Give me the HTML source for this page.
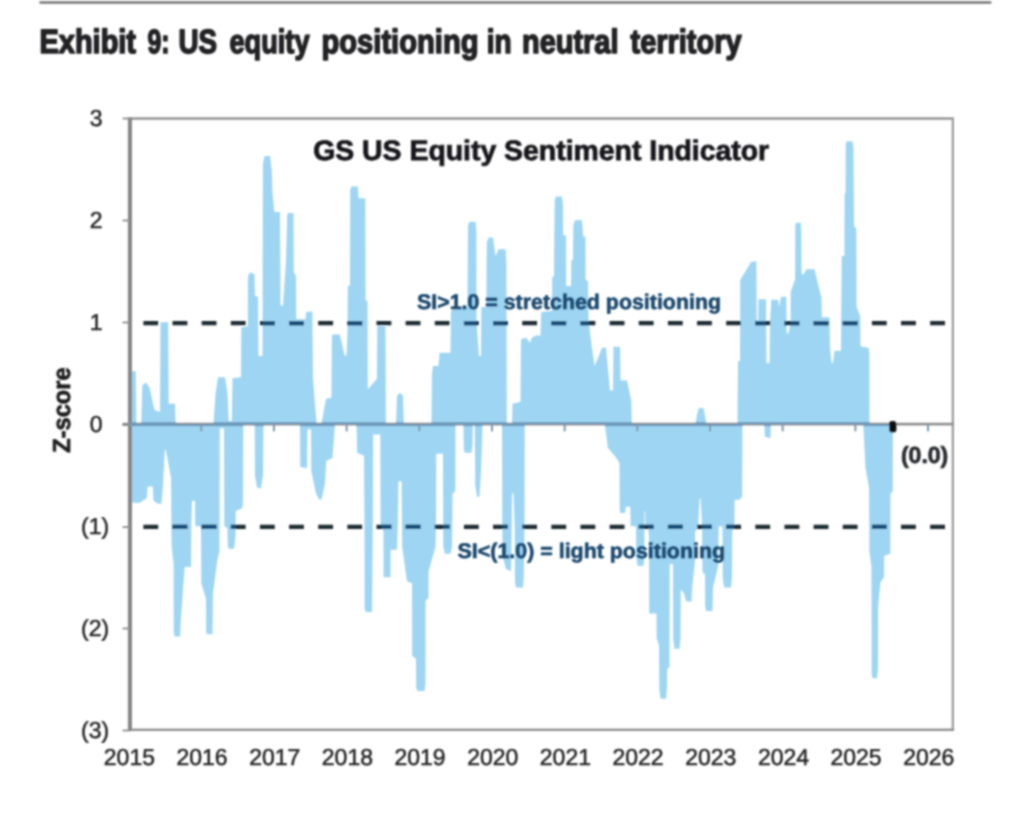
<!DOCTYPE html>
<html lang="en">
<head>
<meta charset="utf-8">
<title>Exhibit 9: US equity positioning in neutral territory</title>
<style>
html,body{margin:0;padding:0;background:#fff;}
body{width:1024px;height:830px;overflow:hidden;position:relative;font-family:"Liberation Sans",Arial,sans-serif;}
svg{position:absolute;left:0;top:0;display:block;text-rendering:geometricPrecision;}
.ttl{font-weight:bold;font-size:33.6px;fill:#232325;stroke:#232325;stroke-width:1.6px;stroke-linejoin:round;}
.ax text{font-size:23px;fill:#262626;stroke:#262626;stroke-width:0.5px;}
.ct{font-weight:bold;font-size:28px;fill:#19191b;stroke:#19191b;stroke-width:0.8px;}
.an{font-weight:bold;font-size:21.1px;fill:#1b486e;stroke:#1b486e;stroke-width:0.6px;mix-blend-mode:multiply;}
.val{font-weight:bold;font-size:23.3px;fill:#262c2e;stroke:#262c2e;stroke-width:0.7px;}
</style>
</head>
<body>
<svg width="1024" height="830" viewBox="0 0 1024 830">
<defs>
<filter id="soft" x="0" y="0" width="1024" height="830" filterUnits="userSpaceOnUse"><feGaussianBlur stdDeviation="1"/></filter>
<filter id="tsoft" x="0" y="0" width="1024" height="830" filterUnits="userSpaceOnUse"><feConvolveMatrix order="3" kernelMatrix="1 2 1 2 4 2 1 2 1" divisor="16" edgeMode="duplicate" preserveAlpha="false"/><feConvolveMatrix order="3" kernelMatrix="1 4 1 4 16 4 1 4 1" divisor="36" edgeMode="duplicate" preserveAlpha="false"/></filter>
<clipPath id="ca"><path d="M130 424.25L130 371.21L135.8 371.21L136.3 424.25L141.3 424.25L142.3 385.49L146 382.43L149.5 387.53L154.5 409.97L160 412.01L160.5 322.25L168.2 322.25L168.6 403.85L175 403.85L175.6 424.25L213.5 424.25L215.5 393.65L218 377.33L225 377.33L227.5 393.65L228.8 421.19L231.8 421.19L232.5 378.35L241 377.33L241.3 327.35L247.8 326.33L248 276.35L250 272.27L254.5 274.31L255 295.73L258 296.75L258.5 355.91L262.5 355.91L262.9 164.15L264.5 155.99L270 155.99L271.7 169.25L272.5 192.71L274.3 212.09L280 212.09L280.5 304.91L283 305.93L286 261.05L287.2 215.15L288 213.11L293.5 213.11L293.8 273.29L296 275.33L296.3 319.19L305.6 319.19L306 312.05L312.4 311.54L313 378.35L316.6 424.25L321.5 424.25L322.3 419.15L326 398.75L331.4 397.73L331.9 336.53L332.6 334.49L339.8 334.49L344.8 355.91L346.5 354.89L347.5 332.45L347.8 286.04L350 285.53L350.2 189.65L351.5 186.59L357.9 186.59L358.5 198.32L365.3 198.32L365.6 299.81L367.5 301.85L367.8 389.57L369 388.04L376.9 378.86L377.3 327.35L378 325.82L385.5 326.33L385.9 424.25L396 424.25L397 395.69L400 392.63L403 395.69L403.8 424.25L431.5 424.25L432 373.25L433 366.11L438.5 366.11L439.5 352.85L450.5 352.85L451 312.05L452.5 308.99L467.5 306.95L468 225.35L469.5 221.78L475.5 221.78L476.3 230.45L476.6 322.25L479 355.91L481 355.91L481.3 306.95L486.3 306.95L486.8 242.69L488.5 237.59L493 237.59L494.8 250.85L495.5 255.95L497 252.89L498.5 249.22L505.5 249.22L506.4 261.05L506.8 424.25L512 424.25L512.5 403.85L520.5 401.81L521 339.59L526 337.55L530 342.65L532 337.55L536 335.51L540.5 335.51L541.2 312.05L552 311.03L552.2 277.37L554 276.35L554.3 235.55L554.8 199.85L556 196.38L562 196.38L562.9 204.95L563.2 235.04L566 235.55L566.2 286.04L571 286.04L571.3 261.05L573 259.01L573.3 225.35L575 220.25L582 220.25L582.8 230.45L583.2 236.57L585.4 236.57L585.6 279.41L588 281.45L588.5 318.17L590 332.45L594.5 366.11L598 357.95L602 347.75L606 347.75L610 390.59L613 390.59L613.5 346.73L620 346.73L620.5 380.39L627 380.39L631.3 400.79L631.8 424.25L695.5 424.25L697 414.05L699 407.93L703.5 407.93L705.5 419.15L706.4 424.25L737.5 424.25L738 361.01L740 361.01L740.2 280.02L751.1 262.07L756.4 261.05L756.7 320.21L758.2 320.21L758.5 299.3L766 299.3L766.5 363.05L769.5 363.05L770 322.25L771.4 299.81L778 299.81L779 306.95L781 296.75L786.3 296.75L786.7 333.47L788.5 333.47L790.6 322.25L790.7 291.65L795.1 279.41L795.3 225.35L796 222.8L800.8 222.8L801.3 230.45L801.5 272.27L803 275.33L806.5 269.21L814.5 269.21L820.6 294.71L821.5 296.75L821.8 317.15L829.5 317.15L830 347.75L831.5 363.05L833 363.05L834.5 350.81L841 350.81L841.7 255.95L844.4 255.95L844.6 194.75L845.5 192.71L845.8 144.77L846.5 141.2L852.5 141.2L853.5 148.85L854 226.37L856.3 228.41L856.6 306.95L860.2 316.13L860.5 345.71L862 346.73L868.5 347.75L869.3 352.85L869.5 424.25L869.5 424.25Z"/><path d="M130 424.25L130 499.73L133 502.79L140 502.79L147 497.69L147.6 486.47L152.8 486.47L153.5 500.75L158 503.81L161.5 503.81L163 485.45L164.8 449.75L165.8 449.75L171 477.8L171.5 526.25L171.6 545.63L173.6 563.48L173.8 632.33L174.5 636.41L180 636.41L181 618.05L184.3 572.15L184.6 567.05L191 567.05L191.3 526.25L192 500.75L195 500.75L195.3 526.25L201 526.25L201.3 583.37L206 598.67L206.2 632.33L207 634.37L212.5 634.37L213 593.57L217.5 558.89L219.4 551.75L219.8 428.33L224 428.33L224.3 526.25L227.5 528.29L227.8 546.65L229 548.69L234 548.69L235.5 536.45L235.8 510.95L242.5 507.89L243 499.73L243.3 424.25L254.7 424.25L255 475.25L257 487.49L261 488.51L263 475.25L263.5 424.25L300 424.25L300.3 467.09L307 468.11L307.5 429.35L311 429.35L311.3 471.17L316 493.61L320 500.75L322 497.69L325 483.41L326.2 460.97L332.5 457.91L335 424.25L356.5 424.25L357.2 452.81L364 455.87L364.5 526.25L364.6 607.85L365.5 611.93L372 611.93L372.8 526.25L373.2 434.45L380.3 434.45L380.6 526.25L383.5 531.35L383.6 577.25L390.5 577.25L390.6 549.71L397 549.71L397.75 526.25L398.4 481.37L401.6 481.37L402 526.25L402.2 546.65L407 581.33L412 583.37L412.2 655.79L416 658.85L416.2 687.41L417.5 690.98L424.5 690.98L425.5 684.35L425.6 600.71L428.5 597.65L428.6 571.13L435.5 546.65L436 526.25L436.3 453.83L443 453.83L443.2 526.25L443.3 546.65L445 553.79L450.5 553.79L452 546.65L452.6 493.61L455.3 491.57L455.5 424.25L463.5 424.25L463.8 449.75L465 452.81L471.5 452.81L472.5 444.65L472.8 424.25L474.8 424.25L475.3 485.45L477 496.67L479.5 496.67L481 470.15L482 444.65L482.5 424.25L502 424.25L502.3 526.25L502.8 556.85L506 569.09L511 571.13L511.5 546.65L512 493.61L513.5 493.61L514.75 526.25L515 582.35L516 587.45L523 587.45L523.8 577.25L524.5 526.25L524.75 424.25L604.7 424.25L605.5 429.35L607.8 447.71L615.6 456.89L619.5 463.01L619.7 509.93L620.5 512.99L625 512.99L625.8 506.87L630.3 506.87L630.6 526.25L636 526.25L636.3 556.85L637.5 566.03L643.5 566.03L644.3 556.85L644.5 510.95L645.2 510.95L645.5 526.25L648 526.25L649 536.45L649.2 613.46L656.5 613.46L656.7 638.45L659 645.59L659.3 689.45L660.5 698.63L666 698.63L667 689.45L667.2 669.05L669.5 667.01L669.7 563.99L673 563.99L673.2 638.45L674.5 648.65L679.5 648.65L680.5 638.45L680.75 589.49L684 593.57L686 601.22L691.5 601.73L692 590L695 560.93L695.2 531.35L698 528.29L699.7 498.71L700.7 498.71L702 526.25L702.5 572.15L705 574.19L705.2 605.81L706 610.91L712.5 610.91L713 587.45L718 567.05L718.75 526.25L722.5 526.25L722.7 577.25L724 587.45L731 587.45L732 577.25L732.2 531.35L734.5 528.29L734.7 499.73L740 499.73L740.2 497.69L742.2 497.69L742.4 424.25L764.5 424.25L764.8 436.49L770.5 438.53L770.8 424.25L863.3 424.25L865.5 468.11L869 487.49L869.3 526.25L869.4 551.75L871.5 567.05L871.7 674.15L872.5 678.23L877 678.23L878 669.05L878.2 605.81L880.5 582.35L884 577.25L884.25 555.83L890.3 553.79L890.5 493.61L892.8 491.57L893 424.25L893 424.25Z"/></clipPath>
</defs>
<rect x="0" y="0" width="1024" height="830" fill="#ffffff"/>
<g filter="url(#tsoft)">
<!-- top rule -->
<rect x="39.5" y="1.3" width="951.8" height="2.4" fill="#6f6f6f"/>
<!-- title -->
<!-- plot frame -->
<rect x="130.5" y="117.4" width="823.5" height="2.3" fill="#8c8c8c"/>
<rect x="951.7" y="118" width="2.3" height="612.6" fill="#9c9c9c"/>
<rect x="130.5" y="728.6" width="823.5" height="2.4" fill="#8f8f8f"/>
<!-- area series -->
<path d="M130 424.25L130 371.21L135.8 371.21L136.3 424.25L141.3 424.25L142.3 385.49L146 382.43L149.5 387.53L154.5 409.97L160 412.01L160.5 322.25L168.2 322.25L168.6 403.85L175 403.85L175.6 424.25L213.5 424.25L215.5 393.65L218 377.33L225 377.33L227.5 393.65L228.8 421.19L231.8 421.19L232.5 378.35L241 377.33L241.3 327.35L247.8 326.33L248 276.35L250 272.27L254.5 274.31L255 295.73L258 296.75L258.5 355.91L262.5 355.91L262.9 164.15L264.5 155.99L270 155.99L271.7 169.25L272.5 192.71L274.3 212.09L280 212.09L280.5 304.91L283 305.93L286 261.05L287.2 215.15L288 213.11L293.5 213.11L293.8 273.29L296 275.33L296.3 319.19L305.6 319.19L306 312.05L312.4 311.54L313 378.35L316.6 424.25L321.5 424.25L322.3 419.15L326 398.75L331.4 397.73L331.9 336.53L332.6 334.49L339.8 334.49L344.8 355.91L346.5 354.89L347.5 332.45L347.8 286.04L350 285.53L350.2 189.65L351.5 186.59L357.9 186.59L358.5 198.32L365.3 198.32L365.6 299.81L367.5 301.85L367.8 389.57L369 388.04L376.9 378.86L377.3 327.35L378 325.82L385.5 326.33L385.9 424.25L396 424.25L397 395.69L400 392.63L403 395.69L403.8 424.25L431.5 424.25L432 373.25L433 366.11L438.5 366.11L439.5 352.85L450.5 352.85L451 312.05L452.5 308.99L467.5 306.95L468 225.35L469.5 221.78L475.5 221.78L476.3 230.45L476.6 322.25L479 355.91L481 355.91L481.3 306.95L486.3 306.95L486.8 242.69L488.5 237.59L493 237.59L494.8 250.85L495.5 255.95L497 252.89L498.5 249.22L505.5 249.22L506.4 261.05L506.8 424.25L512 424.25L512.5 403.85L520.5 401.81L521 339.59L526 337.55L530 342.65L532 337.55L536 335.51L540.5 335.51L541.2 312.05L552 311.03L552.2 277.37L554 276.35L554.3 235.55L554.8 199.85L556 196.38L562 196.38L562.9 204.95L563.2 235.04L566 235.55L566.2 286.04L571 286.04L571.3 261.05L573 259.01L573.3 225.35L575 220.25L582 220.25L582.8 230.45L583.2 236.57L585.4 236.57L585.6 279.41L588 281.45L588.5 318.17L590 332.45L594.5 366.11L598 357.95L602 347.75L606 347.75L610 390.59L613 390.59L613.5 346.73L620 346.73L620.5 380.39L627 380.39L631.3 400.79L631.8 424.25L695.5 424.25L697 414.05L699 407.93L703.5 407.93L705.5 419.15L706.4 424.25L737.5 424.25L738 361.01L740 361.01L740.2 280.02L751.1 262.07L756.4 261.05L756.7 320.21L758.2 320.21L758.5 299.3L766 299.3L766.5 363.05L769.5 363.05L770 322.25L771.4 299.81L778 299.81L779 306.95L781 296.75L786.3 296.75L786.7 333.47L788.5 333.47L790.6 322.25L790.7 291.65L795.1 279.41L795.3 225.35L796 222.8L800.8 222.8L801.3 230.45L801.5 272.27L803 275.33L806.5 269.21L814.5 269.21L820.6 294.71L821.5 296.75L821.8 317.15L829.5 317.15L830 347.75L831.5 363.05L833 363.05L834.5 350.81L841 350.81L841.7 255.95L844.4 255.95L844.6 194.75L845.5 192.71L845.8 144.77L846.5 141.2L852.5 141.2L853.5 148.85L854 226.37L856.3 228.41L856.6 306.95L860.2 316.13L860.5 345.71L862 346.73L868.5 347.75L869.3 352.85L869.5 424.25L869.5 424.25Z" fill="#9ed5f3"/>
<path d="M130 424.25L130 499.73L133 502.79L140 502.79L147 497.69L147.6 486.47L152.8 486.47L153.5 500.75L158 503.81L161.5 503.81L163 485.45L164.8 449.75L165.8 449.75L171 477.8L171.5 526.25L171.6 545.63L173.6 563.48L173.8 632.33L174.5 636.41L180 636.41L181 618.05L184.3 572.15L184.6 567.05L191 567.05L191.3 526.25L192 500.75L195 500.75L195.3 526.25L201 526.25L201.3 583.37L206 598.67L206.2 632.33L207 634.37L212.5 634.37L213 593.57L217.5 558.89L219.4 551.75L219.8 428.33L224 428.33L224.3 526.25L227.5 528.29L227.8 546.65L229 548.69L234 548.69L235.5 536.45L235.8 510.95L242.5 507.89L243 499.73L243.3 424.25L254.7 424.25L255 475.25L257 487.49L261 488.51L263 475.25L263.5 424.25L300 424.25L300.3 467.09L307 468.11L307.5 429.35L311 429.35L311.3 471.17L316 493.61L320 500.75L322 497.69L325 483.41L326.2 460.97L332.5 457.91L335 424.25L356.5 424.25L357.2 452.81L364 455.87L364.5 526.25L364.6 607.85L365.5 611.93L372 611.93L372.8 526.25L373.2 434.45L380.3 434.45L380.6 526.25L383.5 531.35L383.6 577.25L390.5 577.25L390.6 549.71L397 549.71L397.75 526.25L398.4 481.37L401.6 481.37L402 526.25L402.2 546.65L407 581.33L412 583.37L412.2 655.79L416 658.85L416.2 687.41L417.5 690.98L424.5 690.98L425.5 684.35L425.6 600.71L428.5 597.65L428.6 571.13L435.5 546.65L436 526.25L436.3 453.83L443 453.83L443.2 526.25L443.3 546.65L445 553.79L450.5 553.79L452 546.65L452.6 493.61L455.3 491.57L455.5 424.25L463.5 424.25L463.8 449.75L465 452.81L471.5 452.81L472.5 444.65L472.8 424.25L474.8 424.25L475.3 485.45L477 496.67L479.5 496.67L481 470.15L482 444.65L482.5 424.25L502 424.25L502.3 526.25L502.8 556.85L506 569.09L511 571.13L511.5 546.65L512 493.61L513.5 493.61L514.75 526.25L515 582.35L516 587.45L523 587.45L523.8 577.25L524.5 526.25L524.75 424.25L604.7 424.25L605.5 429.35L607.8 447.71L615.6 456.89L619.5 463.01L619.7 509.93L620.5 512.99L625 512.99L625.8 506.87L630.3 506.87L630.6 526.25L636 526.25L636.3 556.85L637.5 566.03L643.5 566.03L644.3 556.85L644.5 510.95L645.2 510.95L645.5 526.25L648 526.25L649 536.45L649.2 613.46L656.5 613.46L656.7 638.45L659 645.59L659.3 689.45L660.5 698.63L666 698.63L667 689.45L667.2 669.05L669.5 667.01L669.7 563.99L673 563.99L673.2 638.45L674.5 648.65L679.5 648.65L680.5 638.45L680.75 589.49L684 593.57L686 601.22L691.5 601.73L692 590L695 560.93L695.2 531.35L698 528.29L699.7 498.71L700.7 498.71L702 526.25L702.5 572.15L705 574.19L705.2 605.81L706 610.91L712.5 610.91L713 587.45L718 567.05L718.75 526.25L722.5 526.25L722.7 577.25L724 587.45L731 587.45L732 577.25L732.2 531.35L734.5 528.29L734.7 499.73L740 499.73L740.2 497.69L742.2 497.69L742.4 424.25L764.5 424.25L764.8 436.49L770.5 438.53L770.8 424.25L863.3 424.25L865.5 468.11L869 487.49L869.3 526.25L869.4 551.75L871.5 567.05L871.7 674.15L872.5 678.23L877 678.23L878 669.05L878.2 605.81L880.5 582.35L884 577.25L884.25 555.83L890.3 553.79L890.5 493.61L892.8 491.57L893 424.25L893 424.25Z" fill="#9ed5f3"/>
<!-- left axis -->
<rect x="127.9" y="117.4" width="4.1" height="613.6" fill="#868686"/>
<rect x="122.5" y="117.60" width="8" height="1.8" fill="#8d8d8d"/><rect x="122.5" y="219.60" width="8" height="1.8" fill="#8d8d8d"/><rect x="122.5" y="321.60" width="8" height="1.8" fill="#8d8d8d"/><rect x="122.5" y="424.20" width="8" height="1.8" fill="#8d8d8d"/><rect x="122.5" y="526.20" width="8" height="1.8" fill="#8d8d8d"/><rect x="122.5" y="627.60" width="8" height="1.8" fill="#8d8d8d"/><rect x="122.5" y="729.60" width="8" height="1.8" fill="#8d8d8d"/>
<!-- zero line -->
<rect x="122.5" y="422.8" width="831" height="2.6" fill="#8c8c8c"/>
<g clip-path="url(#ca)"><rect x="122.5" y="422.2" width="831" height="3.9" fill="#6e9aba"/></g>
<rect x="200.27" y="424" width="2" height="7.4" fill="#7f98aa"/><rect x="272.95" y="424" width="2" height="7.4" fill="#7f98aa"/><rect x="345.62" y="424" width="2" height="7.4" fill="#7f98aa"/><rect x="418.30" y="424" width="2" height="7.4" fill="#7f98aa"/><rect x="490.98" y="424" width="2" height="7.4" fill="#7f98aa"/><rect x="563.65" y="424" width="2" height="7.4" fill="#7f98aa"/><rect x="636.32" y="424" width="2" height="7.4" fill="#7f98aa"/><rect x="709.00" y="424" width="2" height="7.4" fill="#7f98aa"/><rect x="781.67" y="424" width="2" height="7.4" fill="#7f98aa"/><rect x="854.35" y="424" width="2" height="7.4" fill="#7f98aa"/><rect x="927.02" y="424" width="2" height="7.4" fill="#7f98aa"/>
<!-- dashed threshold lines -->
<g stroke="#1d2a33" stroke-width="4.2" stroke-dasharray="14.8 14.34" fill="none">
<path d="M143.4 323.1H946"/><path d="M143.4 526.9H946"/>
</g>
<g clip-path="url(#ca)" stroke="#0c4d78" stroke-width="4.4" stroke-dasharray="14.8 14.34" fill="none">
<path d="M143.4 323.1H946"/><path d="M143.4 526.9H946"/>
</g>
<!-- last point marker -->
<rect x="889" y="420.9" width="7.4" height="11.6" rx="3" fill="#0a0a0c"/>
</g>
<g filter="url(#tsoft)">
<!-- labels -->
<text class="ttl" y="53.0"><tspan x="39.50" textLength="96.50" lengthAdjust="spacingAndGlyphs">Exhibit</tspan> <tspan x="147.50" textLength="22.11" lengthAdjust="spacingAndGlyphs">9:</tspan> <tspan x="178.45" textLength="38.58" lengthAdjust="spacingAndGlyphs">US</tspan> <tspan x="229.51" textLength="80.00" lengthAdjust="spacingAndGlyphs">equity</tspan> <tspan x="321.49" textLength="157.02" lengthAdjust="spacingAndGlyphs">positioning</tspan> <tspan x="486.79" textLength="24.88" lengthAdjust="spacingAndGlyphs">in</tspan> <tspan x="521.96" textLength="96.58" lengthAdjust="spacingAndGlyphs">neutral</tspan> <tspan x="630.49" textLength="111.02" lengthAdjust="spacingAndGlyphs">territory</tspan></text>
<g class="ax"><text x="102.6" y="125.8" text-anchor="end">3</text><text x="102.6" y="227.8" text-anchor="end">2</text><text x="102.6" y="329.8" text-anchor="end">1</text><text x="102.6" y="431.8" text-anchor="end">0</text><text x="109.2" y="533.8" text-anchor="end">(1)</text><text x="109.2" y="635.8" text-anchor="end">(2)</text><text x="109.2" y="737.8" text-anchor="end">(3)</text><text x="129.4" y="765.3" text-anchor="middle">2015</text><text x="202.1" y="765.3" text-anchor="middle">2016</text><text x="274.8" y="765.3" text-anchor="middle">2017</text><text x="347.4" y="765.3" text-anchor="middle">2018</text><text x="420.1" y="765.3" text-anchor="middle">2019</text><text x="492.8" y="765.3" text-anchor="middle">2020</text><text x="565.4" y="765.3" text-anchor="middle">2021</text><text x="638.1" y="765.3" text-anchor="middle">2022</text><text x="710.8" y="765.3" text-anchor="middle">2023</text><text x="783.5" y="765.3" text-anchor="middle">2024</text><text x="856.1" y="765.3" text-anchor="middle">2025</text><text x="928.8" y="765.3" text-anchor="middle">2026</text></g>
<text transform="translate(69.5 452.8) rotate(-90)" textLength="85.5" lengthAdjust="spacingAndGlyphs" style="font-size:24.6px;font-weight:bold;fill:#1c1c1c;stroke:#1c1c1c;stroke-width:0.7px">Z-score</text>
<text class="ct" x="313.2" y="160" textLength="456" lengthAdjust="spacingAndGlyphs">GS US Equity Sentiment Indicator</text>
<text class="an" x="417" y="308.6" textLength="304" lengthAdjust="spacingAndGlyphs">SI&gt;1.0 = stretched positioning</text>
<text class="an" x="457.6" y="557.6" textLength="267.5" lengthAdjust="spacingAndGlyphs">SI&lt;(1.0) = light positioning</text>
<text class="val" x="900.9" y="463.2" textLength="47.4" lengthAdjust="spacingAndGlyphs">(0.0)</text>
</g>
</svg>
</body>
</html>
